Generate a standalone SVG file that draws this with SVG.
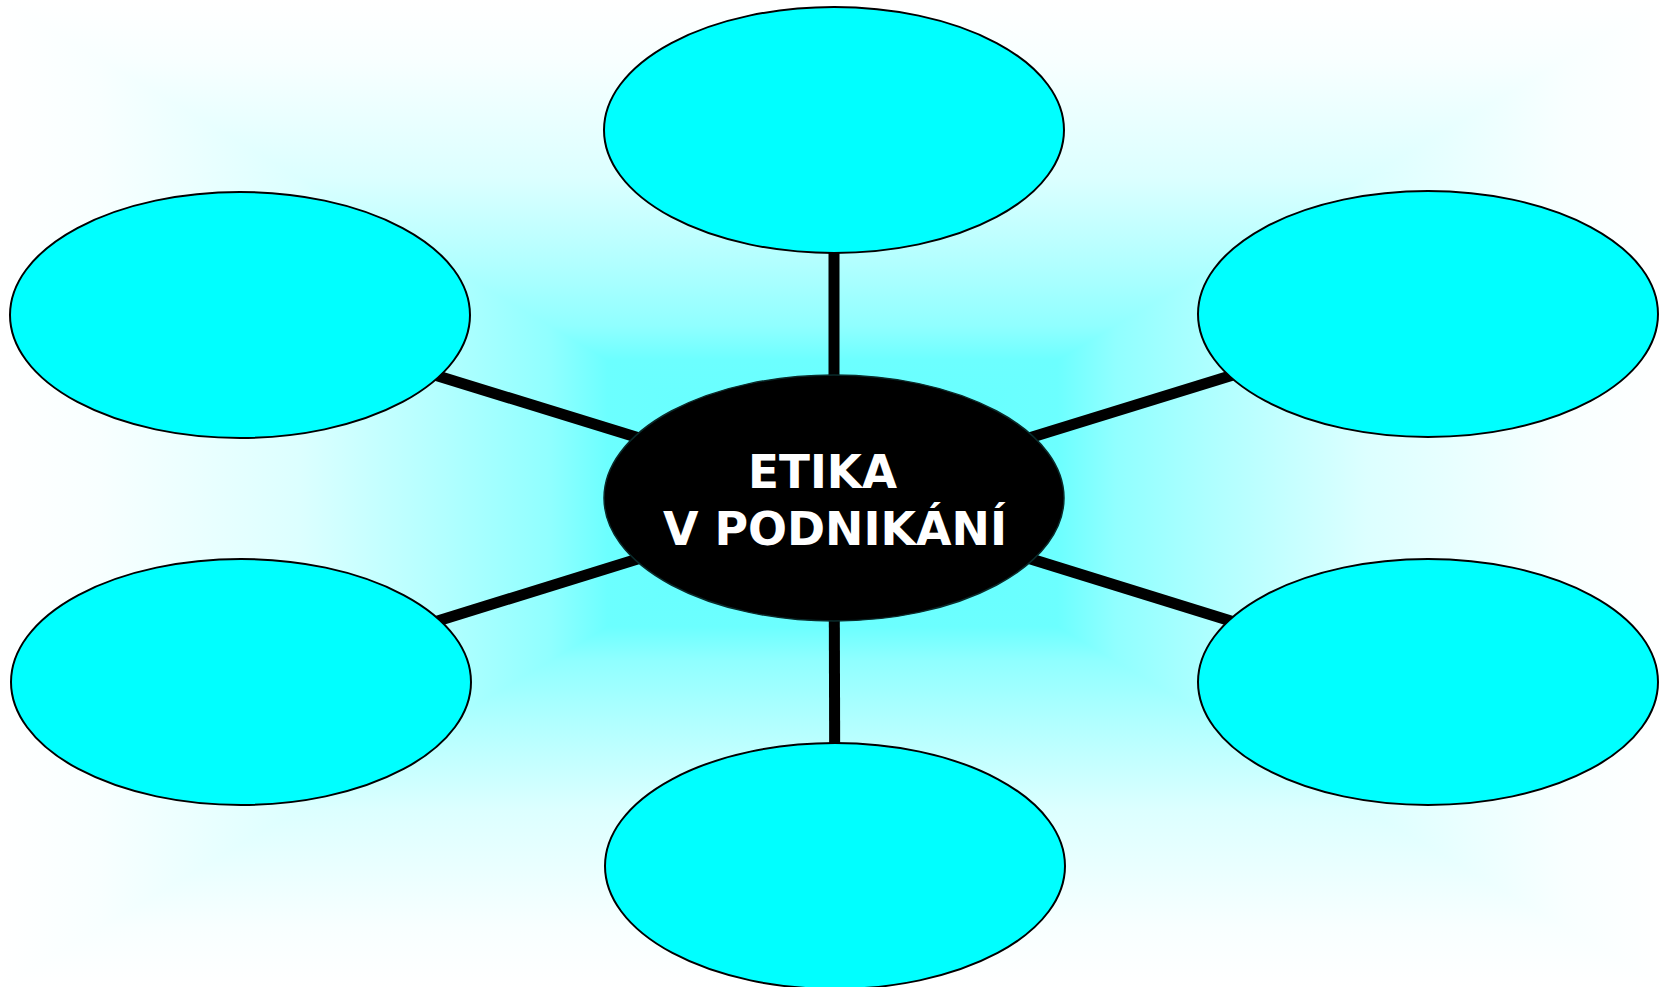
<svg xmlns="http://www.w3.org/2000/svg" width="1665" height="987" viewBox="0 0 1665 987">
<defs>
<linearGradient id="gv" gradientUnits="userSpaceOnUse" x1="0" y1="0" x2="0" y2="987">
<stop offset="0" stop-color="#ffffff"/><stop offset="0.06" stop-color="#f8ffff"/><stop offset="0.18" stop-color="#dcffff"/><stop offset="0.27" stop-color="#b0ffff"/><stop offset="0.33" stop-color="#90ffff"/><stop offset="0.365" stop-color="#6cffff"/><stop offset="0.5" stop-color="#62ffff"/>
<stop offset="0.635" stop-color="#6cffff"/><stop offset="0.67" stop-color="#90ffff"/><stop offset="0.73" stop-color="#b0ffff"/><stop offset="0.82" stop-color="#dcffff"/><stop offset="0.94" stop-color="#f8ffff"/><stop offset="1" stop-color="#ffffff"/>
</linearGradient>
<linearGradient id="gh" gradientUnits="userSpaceOnUse" x1="0" y1="0" x2="1665" y2="0">
<stop offset="0" stop-color="#ffffff"/><stop offset="0.06" stop-color="#f8ffff"/><stop offset="0.18" stop-color="#dcffff"/><stop offset="0.27" stop-color="#b0ffff"/><stop offset="0.33" stop-color="#90ffff"/><stop offset="0.365" stop-color="#6cffff"/><stop offset="0.5" stop-color="#62ffff"/>
<stop offset="0.635" stop-color="#6cffff"/><stop offset="0.67" stop-color="#90ffff"/><stop offset="0.73" stop-color="#b0ffff"/><stop offset="0.82" stop-color="#dcffff"/><stop offset="0.94" stop-color="#f8ffff"/><stop offset="1" stop-color="#ffffff"/>
</linearGradient>
</defs>
<style>
.bub{fill:#00ffff;stroke:#000;stroke-width:2}
.hub{fill:#000;stroke:#0a2a2a;stroke-width:1.5}
.con{stroke:#000;stroke-width:11;fill:none}
.lbl{font-family:"DejaVu Sans","Liberation Sans",sans-serif;font-weight:bold;font-size:46px;fill:#fff}
</style>
<g id="background">
<rect x="0" y="0" width="1665" height="987" fill="url(#gv)"/>
<polygon points="0,0 832.5,493.5 0,987" fill="url(#gh)"/>
<polygon points="1665,0 832.5,493.5 1665,987" fill="url(#gh)"/>
</g>
<g id="connectors">
<line class="con" x1="834" y1="498" x2="834" y2="130"/>
<line class="con" x1="834" y1="498" x2="835" y2="866"/>
<line class="con" x1="834" y1="498" x2="240" y2="315"/>
<line class="con" x1="834" y1="498" x2="1428" y2="315"/>
<line class="con" x1="834" y1="498" x2="241" y2="682"/>
<line class="con" x1="834" y1="498" x2="1428" y2="682"/>
</g>
<g id="node-top"><ellipse class="bub" cx="834" cy="130" rx="230" ry="123"/></g>
<g id="node-left-top"><ellipse class="bub" cx="240" cy="315" rx="230" ry="123"/></g>
<g id="node-right-top"><ellipse class="bub" cx="1428" cy="314" rx="230" ry="123"/></g>
<g id="node-left-bottom"><ellipse class="bub" cx="241" cy="682" rx="230" ry="123"/></g>
<g id="node-right-bottom"><ellipse class="bub" cx="1428" cy="682" rx="230" ry="123"/></g>
<g id="node-bottom"><ellipse class="bub" cx="835" cy="866" rx="230" ry="123"/></g>
<g id="node-center">
<ellipse class="hub" cx="834" cy="498" rx="230" ry="123"/>
<text class="lbl" x="748" y="488" textLength="149" lengthAdjust="spacingAndGlyphs">ETIKA</text>
<text class="lbl" x="663" y="545" textLength="344" lengthAdjust="spacingAndGlyphs">V PODNIKÁNÍ</text>
</g>
</svg>
